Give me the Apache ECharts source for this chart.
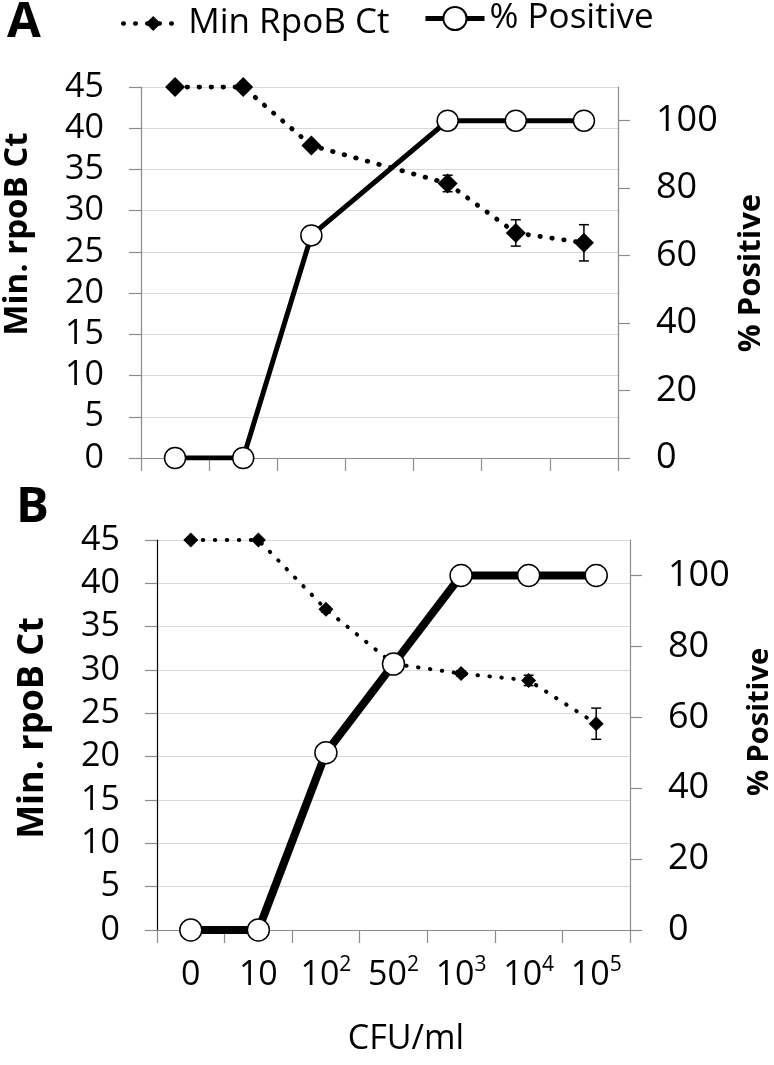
<!DOCTYPE html>
<html><head><meta charset="utf-8">
<script src="https://cdn.jsdelivr.net/npm/echarts@6/dist/echarts.min.js"></script>
<style>html,body{margin:0;padding:0;background:#fff}#c{width:774px;height:1065px}</style>
</head><body><div id="c"></div>
<script>
// ---- data ----
const categories = ['0', '10', '10^2', '50^2', '10^3', '10^4', '10^5'];
const ctTickLabels = [0, 5, 10, 15, 20, 25, 30, 35, 40, 45];
const pctTickLabels = [0, 20, 40, 60, 80, 100];
// Panel A (no 50^2 measurement)
const ctA = [45, 45, 37.9, null, 33.3, 27.3, 26.1];
const ctErrA = [0, 0, 0.5, null, 1.0, 1.6, 2.2];
const pctA = [0, 0, 66, null, 100, 100, 100];
// Panel B
const ctB = [45, 45, 37.0, 30.7, 29.6, 28.8, 23.8];
const ctErrB = [0, 0, 0.3, 0.3, 0.3, 0.6, 1.8];
const pctB = [0, 0, 50, 75, 100, 100, 100];

const FONT = '"Open Sans", "Liberation Sans", sans-serif';
const GRID_C = '#d9d9d9';
const AXIS_C = '#8c8c8c';

function errData(vals, errs) {
  const out = [];
  vals.forEach((v, i) => { if (v != null && errs[i] > 0) out.push([i, v, errs[i]]); });
  return out;
}
function errRender(params, api) {
  const x = api.value(0), y = api.value(1), e = api.value(2);
  const hi = api.coord([x, y + e]), lo = api.coord([x, y - e]);
  const w = 5, st = { stroke: '#000', lineWidth: 1.5 };
  return { type: 'group', children: [
    { type: 'line', shape: { x1: hi[0], y1: hi[1], x2: lo[0], y2: lo[1] }, style: st },
    { type: 'line', shape: { x1: hi[0] - w, y1: hi[1], x2: hi[0] + w, y2: hi[1] }, style: st },
    { type: 'line', shape: { x1: lo[0] - w, y1: lo[1], x2: lo[0] + w, y2: lo[1] }, style: st }
  ]};
}
function catLabel(v) {
  if (v.indexOf('^') >= 0) { const p = v.split('^'); return '{b|' + p[0] + '}{s|' + p[1] + '}'; }
  return '{b|' + v + '}';
}
function xAxisCfg(gi, showLabels) {
  return {
    type: 'category', gridIndex: gi, data: categories, boundaryGap: true,
    axisLine: { show: true, lineStyle: { color: AXIS_C, width: 1.2 } },
    axisTick: { show: true, length: 13, lineStyle: { color: AXIS_C, width: 1.2 } },
    axisLabel: { show: showLabels, formatter: catLabel, margin: 25, interval: 0,
      rich: {
        b: { fontSize: 34, fontFamily: FONT, color: '#000', lineHeight: 40 },
        s: { fontSize: 21, fontFamily: FONT, color: '#000', verticalAlign: 'top', lineHeight: 26 }
      } },
    splitLine: { show: false }
  };
}
function leftAxis(gi, axisColor) {
  return {
    type: 'value', gridIndex: gi, min: 0, max: 45, interval: 5, position: 'left',
    axisLine: { show: true, lineStyle: { color: axisColor, width: 1.2 } },
    axisTick: { show: true, length: 12, lineStyle: { color: AXIS_C, width: 1.2 } },
    axisLabel: { fontSize: 34, fontFamily: FONT, color: '#000', margin: 37,
      customValues: ctTickLabels },
    splitLine: { show: true, lineStyle: { color: GRID_C, width: 1.2 } }
  };
}
function rightAxis(gi) {
  return {
    type: 'value', gridIndex: gi, min: 0, max: 110, position: 'right',
    axisLine: { show: true, lineStyle: { color: AXIS_C, width: 1.2 } },
    axisTick: { show: true, length: 12, lineStyle: { color: AXIS_C, width: 1.2 }, customValues: pctTickLabels },
    axisLabel: { fontSize: 36, fontFamily: FONT, color: '#000', margin: 38, customValues: pctTickLabels },
    splitLine: { show: false }
  };
}
function ctSeries(xi, yi, data, sym, lw) {
  return {
    name: 'Min RpoB Ct', type: 'line', xAxisIndex: xi, yAxisIndex: yi, data: data,
    connectNulls: true, symbol: 'diamond', symbolSize: sym,
    itemStyle: { color: '#000' },
    lineStyle: { color: '#000', width: lw, type: [0.5, 11.5], cap: 'round' },
    z: 3, animation: false
  };
}
function pctSeries(xi, yi, data, sym, lw) {
  return {
    name: '% Positive', type: 'line', xAxisIndex: xi, yAxisIndex: yi, data: data,
    connectNulls: true, symbol: 'circle', symbolSize: sym,
    itemStyle: { color: '#fff', borderColor: '#000', borderWidth: 1.5 },
    lineStyle: { color: '#000', width: lw, type: 'solid' },
    z: 4, animation: false
  };
}
function errSeries(xi, yi, data) {
  return { type: 'custom', xAxisIndex: xi, yAxisIndex: yi, data: data,
    encode: { x: 0, y: 1 }, renderItem: errRender, z: 2, animation: false, silent: true };
}

const chart = echarts.init(document.getElementById('c'), null, { renderer: 'canvas' });
chart.setOption({
  animation: false,
  backgroundColor: '#fff',
  textStyle: { fontFamily: FONT },
  legend: [
    { data: ['Min RpoB Ct'], left: 121, top: 6, padding: 0, itemWidth: 60, itemHeight: 19,
      lineStyle: { width: 4.5, type: [0.5, 11.5], cap: 'round', color: '#000' },
      textStyle: { fontSize: 35, fontFamily: FONT, color: '#000' }, selectedMode: false },
    { data: ['% Positive'], left: 423, top: 1, padding: 0, itemWidth: 59, itemHeight: 29,
      lineStyle: { width: 5, type: 'solid', color: '#000' },
      textStyle: { fontSize: 35, fontFamily: FONT, color: '#000' }, selectedMode: false }
  ],
  grid: [
    { left: 141, top: 87, width: 477, height: 371, containLabel: false },
    { left: 157, top: 540, width: 473, height: 390, containLabel: false }
  ],
  xAxis: [xAxisCfg(0, false), xAxisCfg(1, true)],
  yAxis: [leftAxis(0, AXIS_C), rightAxis(0), leftAxis(1, '#000'), rightAxis(1)],
  series: [
    errSeries(0, 0, errData(ctA, ctErrA)),
    ctSeries(0, 0, ctA, 20, 4.8),
    pctSeries(0, 1, pctA, 21, 5),
    errSeries(1, 2, errData(ctB, ctErrB)),
    ctSeries(1, 2, ctB, 15, 4),
    pctSeries(1, 3, pctB, 22, 8)
  ],
  graphic: [
    { type: 'text', x: 7, y: 23, style: { text: 'A', fontSize: 49, fontWeight: 'bold', fontFamily: FONT, fill: '#000', align: 'left', verticalAlign: 'middle' } },
    { type: 'text', x: 16, y: 508, style: { text: 'B', fontSize: 49, fontWeight: 'bold', fontFamily: FONT, fill: '#000', align: 'left', verticalAlign: 'middle' } },
    { type: 'text', x: 18, y: 234, rotation: Math.PI / 2, style: { text: 'Min. rpoB Ct', fontSize: 33, fontWeight: 'bold', fontFamily: FONT, fill: '#000', align: 'center', verticalAlign: 'middle' } },
    { type: 'text', x: 751, y: 273, rotation: Math.PI / 2, style: { text: '% Positive', fontSize: 31, fontWeight: 'bold', fontFamily: FONT, fill: '#000', align: 'center', verticalAlign: 'middle' } },
    { type: 'text', x: 33, y: 728, rotation: Math.PI / 2, style: { text: 'Min. rpoB Ct', fontSize: 36, fontWeight: 'bold', fontFamily: FONT, fill: '#000', align: 'center', verticalAlign: 'middle' } },
    { type: 'text', x: 760, y: 722, rotation: Math.PI / 2, style: { text: '% Positive', fontSize: 29, fontWeight: 'bold', fontFamily: FONT, fill: '#000', align: 'center', verticalAlign: 'middle' } },
    { type: 'text', x: 406, y: 1039, style: { text: 'CFU/ml', fontSize: 34, fontFamily: FONT, fill: '#000', align: 'center', verticalAlign: 'middle' } }
  ]
});
</script>
</body></html>
